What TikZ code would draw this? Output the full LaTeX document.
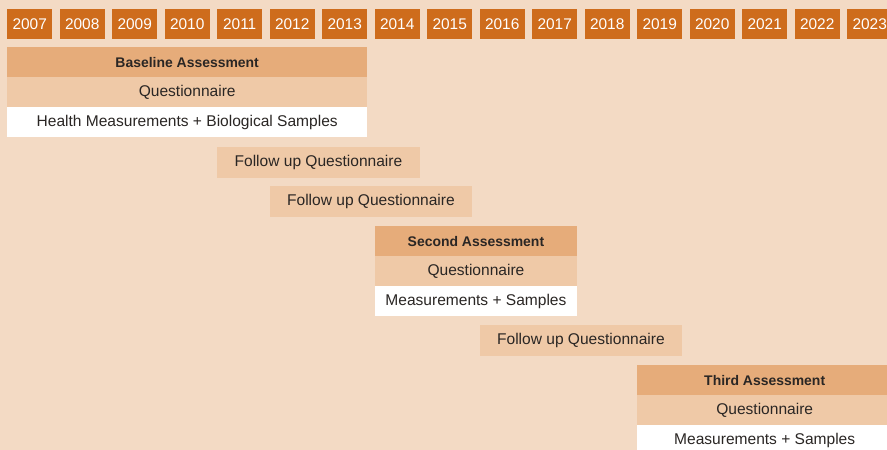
\documentclass[tikz,border=0pt]{standalone}
\usepackage{fontspec}
\setmainfont{Liberation Sans}
\definecolor{bgpeach}{RGB}{243, 218, 196}
\definecolor{yearorange}{RGB}{206, 108, 28}
\definecolor{headtan}{RGB}{230, 172, 122}
\definecolor{qtan}{RGB}{239, 201, 167}
\definecolor{txtdark}{RGB}{42, 38, 36}
\usetikzlibrary{positioning}

\begin{document}
\begin{tikzpicture}[x=1bp, y=-1bp,
  yearbox/.style={fill=yearorange, text=white, minimum width=45bp, minimum height=30bp,
    inner sep=0pt, anchor=north west, font=\fontsize{15.5}{17}\selectfont},
  bar/.style={minimum height=29.7bp, inner sep=0pt, anchor=north west, text=txtdark,
    font=\fontsize{15.6}{17}\selectfont},
  headrow/.style={bar, fill=headtan, font=\fontsize{14}{17}\selectfont\bfseries},
  qrow/.style={bar, fill=qtan},
  mrow/.style={bar, fill=white}]
  \useasboundingbox (0,0) rectangle (887,450);
  \clip (0,0) rectangle (887,450);
  \fill[bgpeach] (0,0) rectangle (887,450);

  % Year strip
  \foreach \yr [count=\i from 0] in {2007,...,2023}
    \node[yearbox] (y\yr) at (7+52.5*\i, 9) {\yr};

  % Baseline block
  \node[headrow, minimum width=360bp] (base) at (y2007.west |- 0,47) {Baseline Assessment};
  \node[qrow, minimum width=360bp] (baseq) at (base.south west) {Questionnaire};
  \node[mrow, minimum width=360bp] (basem) at (baseq.south west) {Health Measurements + Biological Samples};

  % Follow ups
  \node[qrow, minimum width=202.5bp, minimum height=30.5bp] (fu1) at (y2011.west |- 0,147) {Follow up Questionnaire};
  \node[qrow, minimum width=202.5bp, minimum height=30.5bp] (fu2) at (y2012.west |- 0,186) {Follow up Questionnaire};

  % Second block
  \node[headrow, minimum width=202.5bp] (sec) at (y2014.west |- 0,226) {Second Assessment};
  \node[qrow, minimum width=202.5bp] (secq) at (sec.south west) {Questionnaire};
  \node[mrow, minimum width=202.5bp] (secm) at (secq.south west) {Measurements + Samples};

  \node[qrow, minimum width=202.5bp, minimum height=30.5bp] (fu3) at (y2016.west |- 0,325) {Follow up Questionnaire};

  % Third block
  \node[headrow, minimum width=255bp] (thd) at (y2019.west |- 0,365) {Third Assessment};
  \node[qrow, minimum width=255bp] (thdq) at (thd.south west) {Questionnaire};
  \node[mrow, minimum width=255bp] (thdm) at (thdq.south west) {Measurements + Samples};
\end{tikzpicture}
\end{document}
